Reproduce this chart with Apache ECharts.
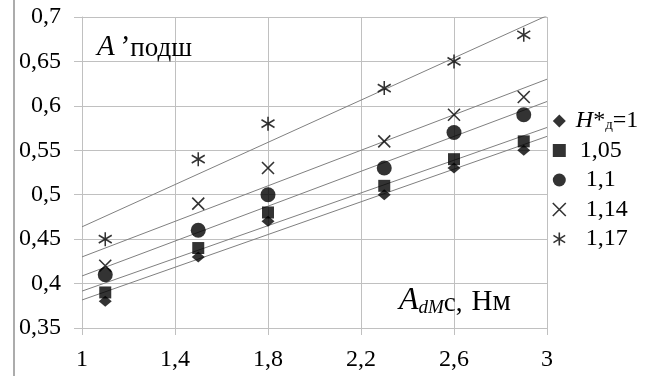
<!DOCTYPE html>
<html>
<head>
<meta charset="utf-8">
<script src="https://cdn.jsdelivr.net/npm/echarts@6/dist/echarts.min.js"></script>
<style>
  html, body { margin: 0; padding: 0; background: #ffffff; }
  #chart { width: 665px; height: 376px; }
</style>
</head>
<body>
<div id="chart"></div>
<script>
// Loading work A_dMc (N·m) on the x axis
const xValues = [1.1, 1.5, 1.8, 2.3, 2.6, 2.9];

// Relative bearing work A'подш for each H*д level
const seriesNames = ['H*д=1', '1,05', '1,1', '1,14', '1,17'];
const yH100 = [0.38, 0.43, 0.47, 0.50, 0.53, 0.55];
const yH105 = [0.39, 0.44, 0.48, 0.51, 0.54, 0.56];
const yH110 = [0.41, 0.46, 0.50, 0.53, 0.57, 0.59];
const yH114 = [0.42, 0.49, 0.53, 0.56, 0.59, 0.61];
const yH117 = [0.45, 0.54, 0.58, 0.62, 0.65, 0.68];

// Axis ranges and tick steps
const xMin = 1, xMax = 3, xStep = 0.4;
const yMin = 0.35, yMax = 0.7, yStep = 0.05;

const FONT = '"Liberation Serif"';
const GRID_GREY = '#c0c0c0';

// Marker shapes: diamond, square, circle, cross, asterisk
const markerDefs = [
  { symbol: 'diamond', size: [13, 11], stroke: false },
  { symbol: 'rect', size: [12, 12], stroke: false },
  { symbol: 'circle', size: 15, stroke: false },
  { symbol: 'path://M0,0L10,10M10,0L0,10', size: [12, 12], stroke: true },
  { symbol: 'path://M5,0L5,10M0.5,2.2L9.5,7.8M9.5,2.2L0.5,7.8', size: [13, 14], stroke: true }
];

const ySets = [yH100, yH105, yH110, yH114, yH117];

// Least-squares linear trend of one series, evaluated at the axis ends
function trendEnds(xs, ys) {
  const n = xs.length;
  const mx = xs.reduce((a, b) => a + b, 0) / n;
  const my = ys.reduce((a, b) => a + b, 0) / n;
  let sxy = 0, sxx = 0;
  for (let i = 0; i < n; i++) {
    sxy += (xs[i] - mx) * (ys[i] - my);
    sxx += (xs[i] - mx) * (xs[i] - mx);
  }
  const k = sxy / sxx;
  const b = my - k * mx;
  return [[xMin, b + k * xMin], [xMax, b + k * xMax]];
}

const series = [];
ySets.forEach((ys, i) => {
  series.push({
    name: 'trend ' + seriesNames[i],
    type: 'line',
    data: trendEnds(xValues, ys),
    showSymbol: false,
    symbol: 'none',
    silent: true,
    z: 1,
    lineStyle: { color: '#808080', width: 1 }
  });
});
ySets.forEach((ys, i) => {
  const m = markerDefs[i];
  series.push({
    name: seriesNames[i],
    type: 'scatter',
    data: xValues.map((x, j) => [x, ys[j]]),
    symbol: m.symbol,
    symbolSize: m.size,
    z: 3,
    itemStyle: m.stroke
      ? { color: 'rgba(0,0,0,0)', borderColor: '#000000', borderWidth: 1.6 }
      : { color: '#000000' }
  });
});

const fmt = v => String(+v.toFixed(2)).replace('.', ',');

const txt = (size, extra) => Object.assign({
  fontFamily: FONT, fontSize: size, fontWeight: 'normal', color: '#000000'
}, extra || {});

const chart = echarts.init(document.getElementById('chart'), null, { renderer: 'canvas' });
chart.setOption({
  animation: false,
  backgroundColor: '#ffffff',
  textStyle: { fontFamily: FONT, fontWeight: 'normal' },
  grid: { left: 82, top: 17, right: 118, bottom: 48, containLabel: false, outerBoundsMode: 'none' },
  title: [
    {
      left: 92, top: 28,
      text: '{a|A}{q|’}{c|подш}',
      textStyle: txt(27, {
        rich: {
          a: txt(29, { fontStyle: 'italic', lineHeight: 29, verticalAlign: 'bottom' }),
          q: txt(29, { fontStyle: 'italic', lineHeight: 29, verticalAlign: 'bottom', padding: [0, 2, 0, 4] }),
          c: txt(27, { lineHeight: 27.6, verticalAlign: 'bottom' })
        }
      })
    },
    {
      left: 394, top: 280,
      text: '{a|A}{d|dM}{c|c,}{n|Нм}',
      textStyle: txt(27, {
        rich: {
          a: txt(32, { fontStyle: 'italic', lineHeight: 32, verticalAlign: 'bottom' }),
          d: txt(19, { fontStyle: 'italic', lineHeight: 23.1, verticalAlign: 'bottom' }),
          c: txt(27, { lineHeight: 28.6, verticalAlign: 'bottom' }),
          n: txt(29, { lineHeight: 30, verticalAlign: 'bottom', padding: [0, 0, 0, 9] })
        }
      })
    }
  ],
  legend: {
    orient: 'vertical',
    left: 552,
    top: 109,
    itemWidth: 13,
    itemHeight: 13,
    itemGap: 5.5,
    padding: 0,
    data: seriesNames.map((n, i) => ({
      name: n,
      itemStyle: markerDefs[i].stroke
        ? { color: 'rgba(0,0,0,0)', borderColor: '#000000', borderWidth: 1.6 }
        : { color: '#000000', borderWidth: 0 }
    })),
    formatter: name => {
      if (name === seriesNames[0]) return '{h|H}{t|*}{s|д}{t|=1}';
      if (name === seriesNames[1]) return '{p1|' + name + '}';
      return '{p2|' + name + '}';
    },
    textStyle: txt(24, {
      rich: {
        h: txt(24, { fontStyle: 'italic', lineHeight: 24, verticalAlign: 'bottom', padding: [0, 0, 0, 5] }),
        t: txt(24, { lineHeight: 24, verticalAlign: 'bottom' }),
        s: txt(15, { lineHeight: 17.9, verticalAlign: 'bottom' }),
        p1: txt(24, { lineHeight: 24, padding: [0, 0, 0, 9] }),
        p2: txt(24, { lineHeight: 24, padding: [0, 0, 0, 15] })
      }
    })
  },
  xAxis: {
    type: 'value',
    min: xMin, max: xMax, interval: xStep,
    axisLine: { show: true, lineStyle: { color: GRID_GREY, width: 1 } },
    axisTick: { show: true, length: 7, lineStyle: { color: GRID_GREY, width: 1 } },
    splitLine: { show: true, lineStyle: { color: GRID_GREY, width: 1 } },
    axisLabel: txt(24, { formatter: fmt, margin: 20 })
  },
  yAxis: {
    type: 'value',
    min: yMin, max: yMax, interval: yStep,
    axisLine: { show: true, lineStyle: { color: GRID_GREY, width: 1 } },
    axisTick: { show: true, length: 8, lineStyle: { color: GRID_GREY, width: 1 } },
    splitLine: { show: true, lineStyle: { color: GRID_GREY, width: 1 } },
    axisLabel: txt(24, { formatter: fmt, margin: 21 })
  },
  graphic: [
    {
      type: 'line',
      shape: { x1: 14, y1: 0, x2: 14, y2: 376 },
      style: { stroke: '#909090', lineWidth: 1.5 },
      silent: true
    }
  ],
  series: series
});
</script>
</body>
</html>
